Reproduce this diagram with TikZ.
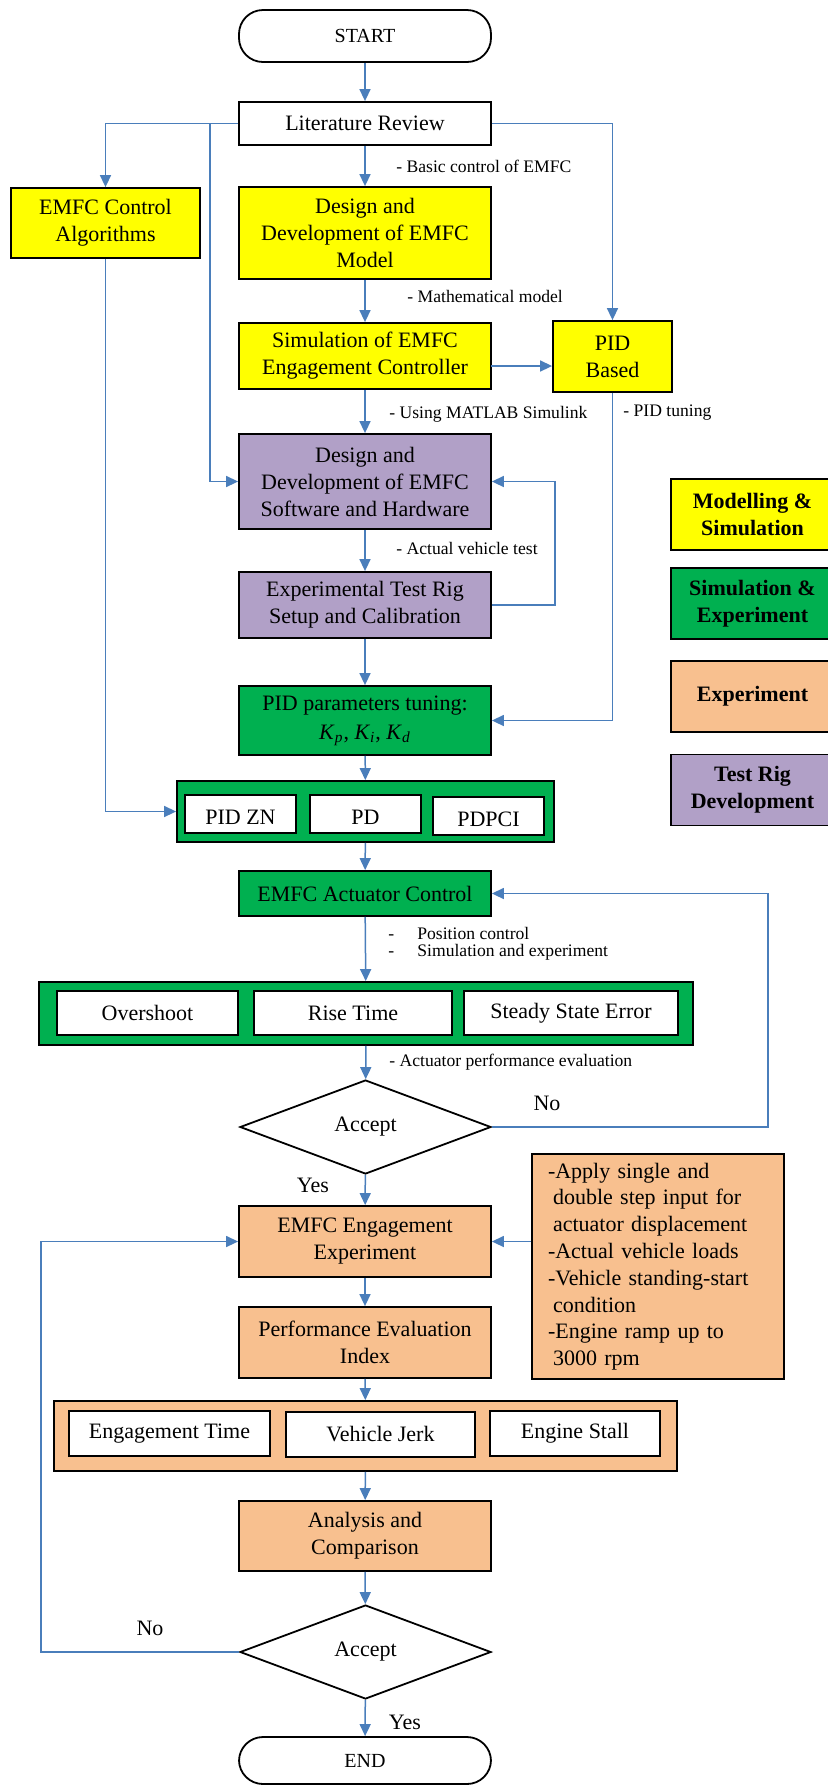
\documentclass[tikz,border=0pt]{standalone}
\usepackage{fontspec}
\setmainfont{Liberation Serif}
\usetikzlibrary{arrows.meta,shapes.geometric}
\definecolor{cyel}{HTML}{FFFF00}
\definecolor{cgrn}{HTML}{00B050}
\definecolor{corg}{HTML}{F8C08F}
\definecolor{cpur}{HTML}{B1A0C7}
\definecolor{cblu}{HTML}{4A7EBB}
\begin{document}
\begin{tikzpicture}[x=0.5pt,y=-0.5pt,
  box/.style={draw=black, line width=0.9pt, rectangle, align=center, inner sep=1pt,
    font=\fontsize{11}{13.5}\selectfont},
  yel/.style={box, fill=cyel},
  grn/.style={box, fill=cgrn},
  org/.style={box, fill=corg},
  pur/.style={box, fill=cpur},
  wht/.style={box, fill=white},
  inner/.style={wht, text height=12.5pt, text depth=2.5pt},
  term/.style={box, fill=white, rounded corners=12pt, font=\fontsize{10}{12}\selectfont},
  dec/.style={draw=black, line width=0.9pt, diamond, aspect=2.67, inner sep=0pt, fill=white,
    minimum width=125.5pt, minimum height=47pt, font=\fontsize{11}{13.5}\selectfont},
  legend/.style={box, font=\bfseries\fontsize{11}{13.5}\selectfont, minimum width=81.5pt, minimum height=35.5pt},
  conn/.style={draw=cblu, line width=0.75pt, -{Triangle[length=6pt,width=5.5pt]}},
  line/.style={draw=cblu, line width=0.75pt},
  lbl/.style={font=\fontsize{8.8}{10.5}\selectfont, inner sep=0pt, anchor=west},
  yn/.style={font=\fontsize{11}{13.5}\selectfont, inner sep=0pt}
]
\useasboundingbox (0,0) rectangle (828,1785);

% main column
\node[term, minimum width=126pt, minimum height=26pt] (start) at (365,36) {START};
\node[wht, minimum width=126pt, minimum height=21.5pt] (lit) at (365,123.5) {Literature Review};
\node[yel, minimum width=126pt, minimum height=46pt] (dm) at (365,233) {Design and\\Development of EMFC\\Model};
\node[yel, minimum width=94.5pt, minimum height=35pt] (alg) at (105.5,223) {EMFC Control\\Algorithms};
\node[yel, minimum width=126pt, minimum height=33pt] (sim) at (365,356) {Simulation of EMFC\\Engagement Controller};
\node[yel, minimum width=59.5pt, minimum height=35.5pt] (pidb) at (612.5,356.5) {PID\\Based};
\node[pur, minimum width=126pt, minimum height=47.5pt] (dsh) at (365,481.5) {Design and\\Development of EMFC\\Software and Hardware};
\node[pur, minimum width=126pt, minimum height=33pt] (etr) at (365,605) {Experimental Test Rig\\Setup and Calibration};
\node[grn, minimum width=126pt, minimum height=34.5pt] (pidp) at (365,720.5) {PID parameters tuning:\\[1pt]\textit{K}\textsubscript{\textit{p}}, \textit{K}\textsubscript{\textit{i}}, \textit{K}\textsubscript{\textit{d}}};

\node[grn, minimum width=188.5pt, minimum height=30.5pt] (c1) at (365.5,811.5) {};
\node[inner, minimum width=55.5pt, minimum height=19pt] (pidzn) at (240.5,814) {PID ZN};
\node[inner, minimum width=55.5pt, minimum height=19pt] (pd) at (365.5,814) {PD};
\node[inner, minimum width=55.5pt, minimum height=19pt] (pdpci) at (488.5,816) {PDPCI};

\node[grn, minimum width=126pt, minimum height=22.5pt] (act) at (365,893.5) {EMFC Actuator Control};

\node[grn, minimum width=327pt, minimum height=31.5pt] (c2) at (366,1013.5) {};
\node[wht, minimum width=90.5pt, minimum height=22pt] (over) at (147.5,1013) {Overshoot};
\node[wht, minimum width=99pt, minimum height=22pt] (rise) at (353,1013) {Rise Time};
\node[wht, minimum width=107pt, minimum height=22pt] (sse) at (571,1013) {Steady State Error};

\node[dec] (d1) at (365.5,1127) {\raisebox{-2pt}{Accept}};

\node[org, minimum width=126pt, minimum height=35.5pt] (eng) at (365,1241.5) {EMFC Engagement\\Experiment};
\node[org, minimum width=126pt, minimum height=112.5pt, align=left, text width=110pt,
  inner xsep=8pt, font=\fontsize{11}{13.4}\selectfont] (note) at (658,1266.5)
  {-Apply single and\\\hspace*{2.5pt}double step input for\\\hspace*{2.5pt}actuator displacement\\-Actual vehicle loads\\-Vehicle standing-start\\\hspace*{2.5pt}condition\\-Engine ramp up to\\\hspace*{2.5pt}3000 rpm};
\node[org, minimum width=126pt, minimum height=35.5pt] (pei) at (365,1342.5) {Performance Evaluation\\Index};

\node[org, minimum width=311.5pt, minimum height=35pt] (c3) at (365.5,1436) {};
\node[wht, minimum width=100.5pt, minimum height=22.5pt] (et) at (169.5,1433.5) {Engagement Time};
\node[wht, minimum width=94.5pt, minimum height=22.5pt] (vj) at (380.5,1434.5) {Vehicle Jerk};
\node[wht, minimum width=85pt, minimum height=22.5pt] (es) at (575,1433.5) {Engine Stall};

\node[org, minimum width=126pt, minimum height=35pt] (ana) at (365,1536) {Analysis and\\Comparison};
\node[dec] (d2) at (365.5,1652) {\raisebox{-2pt}{Accept}};
\node[term, minimum width=126pt, minimum height=23.5pt] (end) at (365,1760.5) {END};

% legend
\node[legend, fill=cyel] (l1) at (752.5,514.5) {Modelling \&\\Simulation};
\node[legend, fill=cgrn] (l2) at (752.5,603.5) {Simulation \&\\Experiment};
\node[legend, fill=corg] (l3) at (752.5,696.5) {Experiment};
\node[legend, fill=cpur] (l4) at (752.5,790) {Test Rig\\Development};

% connectors
\draw[conn] (start) -- (lit);
\draw[conn] (lit) -- (dm);
\draw[conn] (lit.west) -| (alg.north);
\coordinate (br) at (210,123.5);
\draw[conn] (br) |- (dsh.west);
\draw[conn] (lit.east) -| (pidb.north);
\draw[conn] (dm) -- (sim);
\coordinate (s7) at (491,366);
\draw[conn] (s7) -- (s7 -| pidb.west);
\draw[conn] (sim) -- (dsh);
\draw[conn] (dsh) -- (etr);
\draw[conn] (etr.east) -- ++(31.5pt,0) |- (dsh.east);
\draw[conn] (etr) -- (pidp);
\draw[conn] (pidb.south) |- (pidp.east);
\draw[conn] (pidp) -- (c1);
\draw[conn] (alg.south) |- (c1.west);
\draw[conn] (c1) -- (act);
\draw[conn] (act) -- (c2);
\draw[conn] (c2) -- (d1);
\draw[conn] (d1.east) -- ++(138pt,0) |- (act.east);
\draw[conn] (d1) -- (eng);
\draw[conn] (eng.east -| note.west) -- (eng.east);
\draw[conn] (eng) -- (pei);
\draw[conn] (pei) -- (c3);
\draw[conn] (c3) -- (ana);
\draw[conn] (ana) -- (d2);
\draw[conn] (d2.west) -- ++(-99pt,0) |- (eng.west);
\draw[conn] (d2) -- (end);

% labels
\node[lbl] (t1) at (396,166) {- Basic control of EMFC};
\node[lbl] (t2) at (407,296) {- Mathematical model};
\node[lbl] (t3) at (389,414) {- Using MATLAB Simulink};
\node[lbl] (t4) at (623,413) {- PID tuning};
\node[lbl] (t5) at (396,548) {- Actual vehicle test};
\node[lbl] (t6) at (388,933) {\makebox[14.5pt][l]{-}Position control};
\node[lbl] (t7) at (388,952) {\makebox[14.5pt][l]{-}Simulation and experiment};
\node[lbl] (t8) at (389,1062) {- Actuator performance evaluation};
\node[yn] (no1) at (547,1103) {No};
\node[yn] (yes1) at (313,1185) {Yes};
\node[yn] (no2) at (150,1628) {No};
\node[yn] (yes2) at (405,1722) {Yes};
\end{tikzpicture}
\end{document}
